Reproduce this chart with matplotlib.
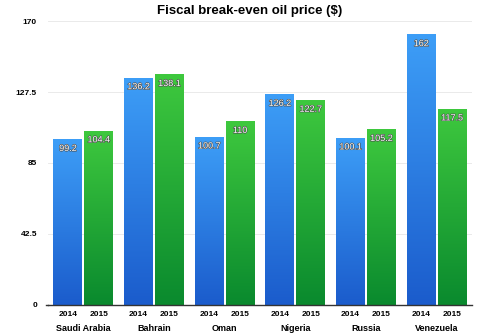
import numpy as np
import matplotlib
matplotlib.use("Agg")
import matplotlib.pyplot as plt
from matplotlib.colors import LinearSegmentedColormap
import matplotlib.patheffects as pe

countries = ["Saudi Arabia", "Bahrain", "Oman", "Nigeria", "Russia", "Venezuela"]
years = ["2014", "2015"]
vals_2014 = [99.2, 136.2, 100.7, 126.2, 100.1, 162]
vals_2015 = [104.4, 138.1, 110, 122.7, 105.2, 117.5]
yticks = [0, 42.5, 85, 127.5, 170]

plt.rcParams['font.family'] = ['Liberation Sans Narrow', 'Liberation Sans', 'DejaVu Sans']

fig = plt.figure(figsize=(5, 3.35), dpi=100)
ax = fig.add_axes([0.096, 0.09, 0.848, 0.847])

blue = LinearSegmentedColormap.from_list("b", ["#1b5ccc", "#3d9ef7"])
green = LinearSegmentedColormap.from_list("g", ["#0a8a2e", "#3ec83e"])
grad = np.linspace(0, 1, 100).reshape(-1, 1)

x = np.arange(len(countries)) + 0.5
w = 0.41
off = 0.218

def fmt(v):
    return ("%g" % v)

for vals, dx, cm in [(vals_2014, -off, blue), (vals_2015, off, green)]:
    bars = ax.bar(x + dx, vals, width=w, color="none", edgecolor="none", zorder=2)
    for b, v in zip(bars, vals):
        x0, h = b.get_x(), b.get_height()
        im = ax.imshow(grad, cmap=cm, origin="lower", aspect="auto",
                       extent=(x0, x0 + b.get_width(), 0, h), zorder=2)
        im.set_clip_path(b)
        ax.text(x0 + b.get_width() / 2, h - 5.5, fmt(v), ha="center", va="center",
                color="white", fontsize=6.5, zorder=3,
                path_effects=[pe.withStroke(linewidth=0.8, foreground="#4a4a4a")])

ax.set_xlim(0, 6)
ax.set_ylim(0, 170)
ax.set_yticks(yticks)
ax.set_yticklabels([fmt(t) for t in yticks], fontsize=6, fontweight="bold")
ax.tick_params(axis="y", length=0, pad=8)
ax.set_xticks([])
ax.grid(axis="y", color="#e6e6e6", linewidth=0.6, zorder=0)
ax.set_axisbelow(True)
for s in ["top", "right", "left"]:
    ax.spines[s].set_visible(False)
ax.spines["bottom"].set_color("#333333")
ax.spines["bottom"].set_linewidth(1.0)
ax.spines["bottom"].set_zorder(4)
ax.plot([-0.03, 0], [0, 0], color="#333333", lw=1.0, clip_on=False)

for i, c in enumerate(countries):
    for yr, dx in zip(years, [-off, off]):
        ax.text(x[i] + dx, -3.5, yr, ha="center", va="top", fontsize=6, fontweight="bold",
                clip_on=False)
    ax.text(x[i], -11.5, c, ha="center", va="top", fontsize=6.5, fontweight="bold",
            clip_on=False)

fig.text(0.5, 0.968, "Fiscal break-even oil price ($)", ha="center", va="center",
         fontsize=9.5, fontweight="bold")

fig.savefig("out.png", dpi=100, facecolor="white")
